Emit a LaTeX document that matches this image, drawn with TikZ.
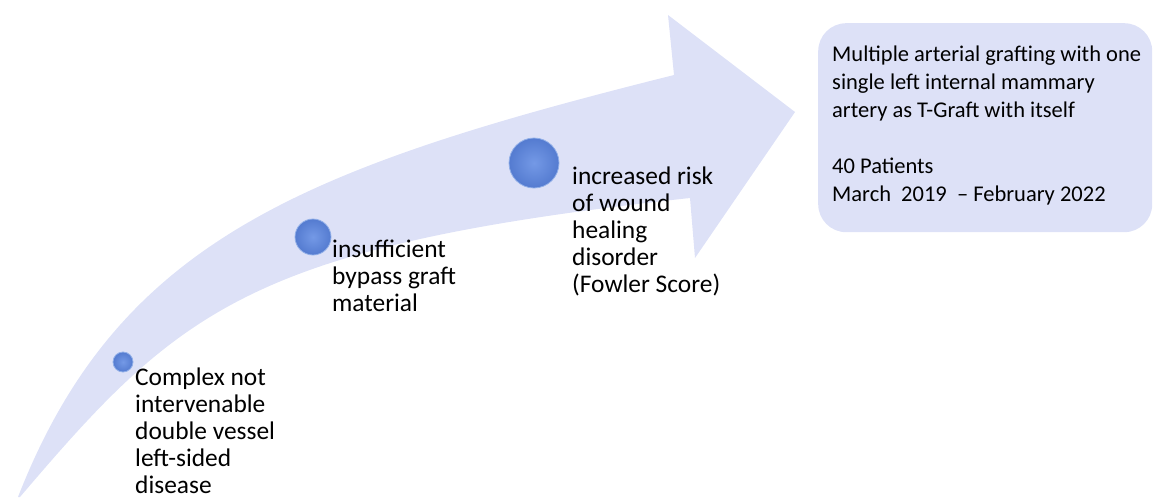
\documentclass[tikz,border=0pt]{standalone}
\usepackage{fontspec}
\setmainfont{Carlito}
\definecolor{lav}{RGB}{221,225,247}
\definecolor{dotin}{RGB}{116,153,230}
\definecolor{dotout}{RGB}{84,123,208}
\definecolor{dotrim}{RGB}{145,175,232}
\begin{document}
\begin{tikzpicture}[x=1pt,y=-1pt,
  dot/.style={circle, inner sep=0pt, inner color=dotin, outer color=dotout,
    draw=dotrim, line width=0.8pt},
  lbl/.style={anchor=base west, inner sep=0pt, font=\fontsize{25.4}{27}\selectfont},
  infobox/.style={anchor=north west, fill=lav, rounded corners=28pt,
    minimum width=334pt, minimum height=209pt, inner sep=0pt},
  infotext/.style={anchor=base west, inner sep=0pt, font=\fontsize{22.5}{28}\selectfont}]
\useasboundingbox (0,0) rectangle (1153,498);

% curved arrow: outer edge, head, inner edge back to the tail point
\fill[lav]
  (18,497) .. controls (118,241) and (302,168) .. (674,75)
  -- (668,15) -- (795,112) -- (695,258) -- (690,198)
  .. controls (250,246) and (180,309) .. (20,497)
  -- cycle;

% milestones along the arrow
\node[dot, minimum size=20pt] (c1) at (123,362) {};
\node[dot, minimum size=36pt] (c2) at (313,237) {};
\node[dot, minimum size=50pt] (c3) at (534,163) {};

\node[lbl] (t1) at (135,385) {\parbox[t]{170pt}{\raggedright
  Complex not\\intervenable\\double vessel\\left-sided\\disease}};
\node[lbl] (t2) at (332,257) {\parbox[t]{170pt}{\raggedright
  insufficient\\bypass graft\\material}};
\node[lbl] (t3) at (572,184) {\parbox[t]{200pt}{\raggedright
  increased risk\\of wound\\healing\\disorder\\(Fowler Score)}};

% result box
\node[infobox] (box) at (818,23) {};
\node[infotext] (boxtext) at (832,61) {\parbox[t]{320pt}{\raggedright
  Multiple arterial grafting with one\\single left internal mammary\\artery as T-Graft with itself\\[28pt]
  40 Patients\\March\ \ 2019\ \ -- February 2022}};
\end{tikzpicture}
\end{document}
